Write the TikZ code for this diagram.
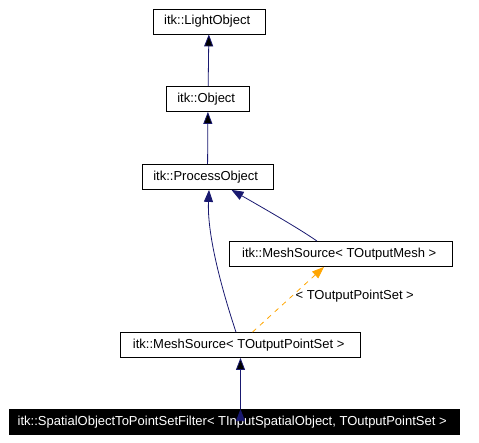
\documentclass[tikz,border=0pt]{standalone}
\usepackage{fontspec}
\setmainfont{Liberation Sans}
\usetikzlibrary{arrows.meta, calc, positioning}
\definecolor{navyline}{RGB}{25,25,112}
\definecolor{tmplline}{RGB}{255,165,0}
\tikzset{ClassGraph/.style={
    x=1pt, y=-1pt,
    font=\fontsize{13}{15}\selectfont,
    base/.style = {draw, line width=0.8pt, minimum height=25pt, inner xsep=0pt, align=center},
    klass/.style = {base, fill=white},
    current/.style = {base, fill=black, text=white},
    inherit/.style = {draw=navyline, line width=0.8pt, arrows={-Triangle[length=12pt, width=9pt]}},
    tmpl/.style = {draw=tmplline, line width=0.8pt, dash pattern=on 5pt off 5pt, arrows={-Triangle[length=12pt, width=9pt]}}
}}

\begin{document}
\begin{tikzpicture}[ClassGraph]
    \useasboundingbox (0,0) rectangle (479,442);
    \node [klass, minimum width=112pt] (lo) at (209,21.5) {
        itk::LightObject
    };
    \node [klass, minimum width=83pt] (obj) at (208,99) {
        itk::Object
    };
    \node [klass, minimum width=131pt] (po) at (207.5,177) {
        itk::ProcessObject
    };
    \node [klass, minimum width=223pt] (mom) at (341,254) {
        itk::MeshSource< TOutputMesh >
    };
    \node [klass, minimum width=240pt] (mps) at (240.5,345) {
        itk::MeshSource< TOutputPointSet >
    };
    \node [current, minimum width=450pt] (flt) at (234,422) {
        itk::SpatialObjectToPointSetFilter< TInputSpatialObject, TOutputPointSet >
    };

    \draw [inherit]
    (obj) edge (lo)
    (po) edge (obj)
    (flt.north -| mps.south) edge (mps.south);
    \draw [inherit] ([xshift=-4.5pt]mps.north)
        .. controls (222,290) and (207,235) .. ([xshift=1.5pt]po.south);
    \draw [inherit] ([xshift=-24pt]mom.north)
        .. controls (300,229) and (258,205) .. ([xshift=24pt]po.south);
    \draw [tmpl] ([xshift=12pt]mps.north) -- node [pos=0.55, right=0pt, text=black] (tlbl) {< TOutputPointSet >} ([xshift=-17pt]mom.south);
\end{tikzpicture}
\end{document}
